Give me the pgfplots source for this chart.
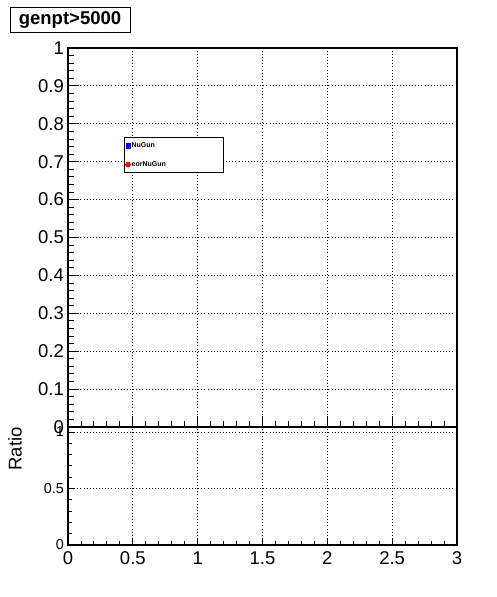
\documentclass[border=0pt]{standalone}
\usepackage{pgfplots}
\pgfplotsset{compat=1.18}
\usepackage{fontspec}
\setmainfont{Liberation Sans}
\begin{document}
\begin{tikzpicture}
\useasboundingbox (0pt,0pt) rectangle (496pt,597pt);
\pgfplotsset{
  rootstyle/.style={
    scale only axis,
    width=389pt,
    xmin=0, xmax=3,
    tick align=inside,
    tick pos=left,
    axis line style={line width=1.3pt},
    every tick/.style={black, line width=0.9pt},
    grid=major,
    major grid style={black, line width=0.9pt, dash pattern=on 0.9pt off 2.2pt},
    /pgf/number format/assume math mode=true,
    xtick={0,0.5,1,1.5,2,2.5,3},
    minor x tick num=4,
  }
}
% top panel
\begin{axis}[rootstyle,
  at={(68pt,170pt)}, anchor=south west,
  height=379pt,
  ymin=0, ymax=1,
  ytick={0,0.1,0.2,0.3,0.4,0.5,0.6,0.7,0.8,0.9,1},
  yticklabels={0,0.1,0.2,0.3,0.4,0.5,0.6,0.7,0.8,0.9,1},
  minor y tick num=4,
  xticklabels={},
  major tick length=11pt,
  minor tick length=6pt,
  yticklabel style={font=\fontsize{18.5}{20}\selectfont, inner sep=0pt, anchor=east},
  yticklabel shift=4pt,
  legend style={at={(axis cs:0.432,0.765)}, anchor=north west, draw=black,
    line width=0.8pt, fill=white, inner xsep=1pt, inner ysep=4pt,
    row sep=10.5pt, font=\fontsize{7}{8}\selectfont\bfseries,
    nodes={inner sep=1pt}},
  legend cell align=left,
  legend image code/.code={\draw[#1] plot coordinates {(0pt,0pt)};},
]
\addlegendimage{only marks, mark=square*, mark size=2.2pt, blue, line width=0.4pt}
\addlegendentry{\makebox[90pt][l]{NuGun}}
\addlegendimage{only marks, mark=*, mark size=2.6pt, red, line width=0.4pt}
\addlegendentry{\makebox[90pt][l]{eorNuGun}}
\end{axis}
% bottom panel
\begin{axis}[rootstyle,
  at={(68pt,52pt)}, anchor=south west,
  height=118pt,
  ymin=0, ymax=1.044,
  ytick={0,0.5,1},
  yticklabels={0,0.5,1},
  minor y tick num=4,
  major tick length=7pt,
  minor tick length=4pt,
  xticklabels={0,0.5,1,1.5,2,2.5,3},
  xticklabel style={font=\fontsize{18.5}{20}\selectfont, inner sep=0pt, anchor=north,
    text height=13.3pt, text depth=0pt},
  xticklabel shift=6.5pt,
  yticklabel style={font=\fontsize{14.4}{16}\selectfont, inner sep=0pt, anchor=east},
  yticklabel shift=4pt,
]
\end{axis}
\node[rotate=90, font=\fontsize{18.5}{20}\selectfont, inner sep=0pt] at (15pt,148pt) {Ratio};
\node[draw=black, line width=1pt, minimum width=120pt, minimum height=25pt, inner sep=0pt,
  font=\fontsize{18.5}{20}\selectfont\bfseries] at (70pt,576.5pt) {genpt>5000};
\end{tikzpicture}
\end{document}
